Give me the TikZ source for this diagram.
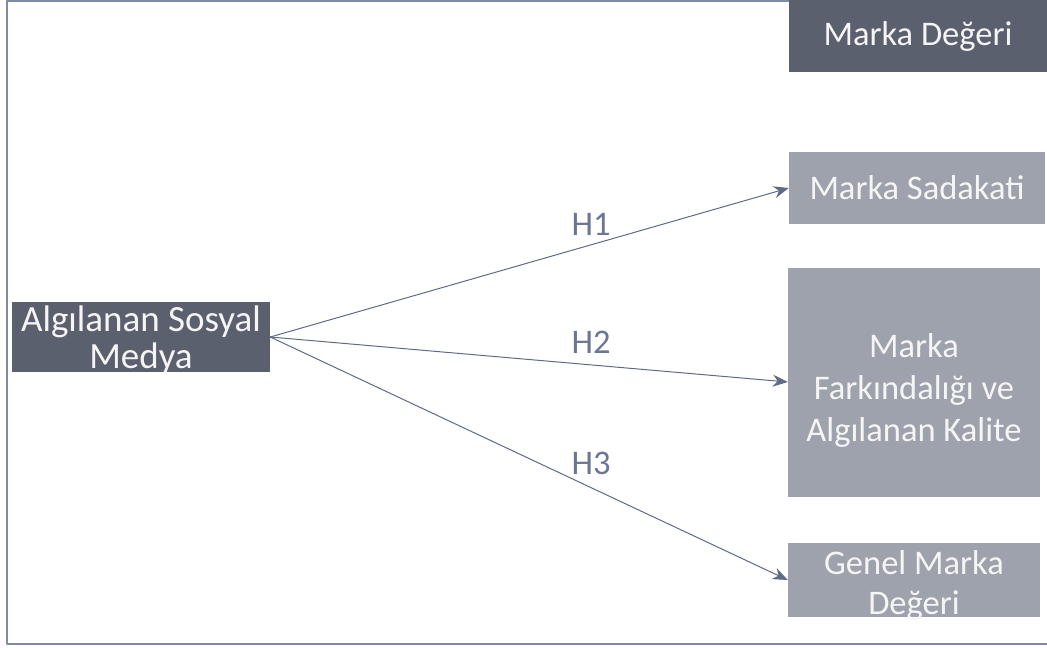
\documentclass[tikz,border=0pt]{standalone}
\usepackage{fontspec}
\setmainfont{Carlito}
\usetikzlibrary{arrows.meta}
\definecolor{koyukutu}{HTML}{5B606F}
\definecolor{acikkutu}{HTML}{9EA2AC}
\definecolor{cerceve}{HTML}{7F8BA5}
\definecolor{okrengi}{HTML}{5E6A86}
\definecolor{hrengi}{HTML}{6C7692}
\begin{document}
\begin{tikzpicture}[x=1pt,y=-1pt,font=\fontsize{34.5}{42}\selectfont, line join=round, line cap=round,
	>={Stealth[length=15pt,width=12pt]},
	kutu/.style={rectangle, inner sep=0pt, align=center, text=white!96!black},
	koyu/.style={kutu, fill=koyukutu},
	acik/.style={kutu, fill=acikkutu},
	yazi/.style={align=center, text=white!96!black, inner sep=0pt}]
	%%Sinirlar
	\useasboundingbox (0,0) rectangle (1047,648);
	\draw[cerceve, line width=2pt] (1047,1)--(7,1)--(7,644)--(1047,644);
	%%Kutular
	\node[koyu, minimum width=258, minimum height=70,
		label={[yazi, font=\fontsize{37}{37}\selectfont, yshift=-3]center:{Algılanan Sosyal\\Medya}}] (sosyal) at (141,337) {};
	\node[koyu, minimum width=258, minimum height=72] (deger) at (918,36) {Marka Değeri};
	\node[acik, minimum width=256, minimum height=72] (sadakat) at (917,188) {Marka Sadakati};
	\node[acik, minimum width=252, minimum height=229,
		label={[yazi, yshift=-8]center:{Marka\\Farkındalığı ve\\Algılanan Kalite}}] (farkindalik) at (914,382) {};
	\node[acik, minimum width=252, minimum height=74,
		label={[yazi, font=\fontsize{34.5}{40}\selectfont, yshift=-5]center:{Genel Marka\\Değeri}}] (genel) at (914,580) {};
	%%Oklar
	\draw[->, okrengi, line width=1pt] (sosyal.east)--(sadakat.west);
	\draw[->, okrengi, line width=1pt] (sosyal.east)--(farkindalik.west);
	\draw[->, okrengi, line width=1pt] (sosyal.east)--(genel.west);
	\node[text=hrengi] (h1) at (591,224) {H1};
	\node[text=hrengi] (h2) at (591,342) {H2};
	\node[text=hrengi] (h3) at (591,463) {H3};
\end{tikzpicture}
\end{document}
